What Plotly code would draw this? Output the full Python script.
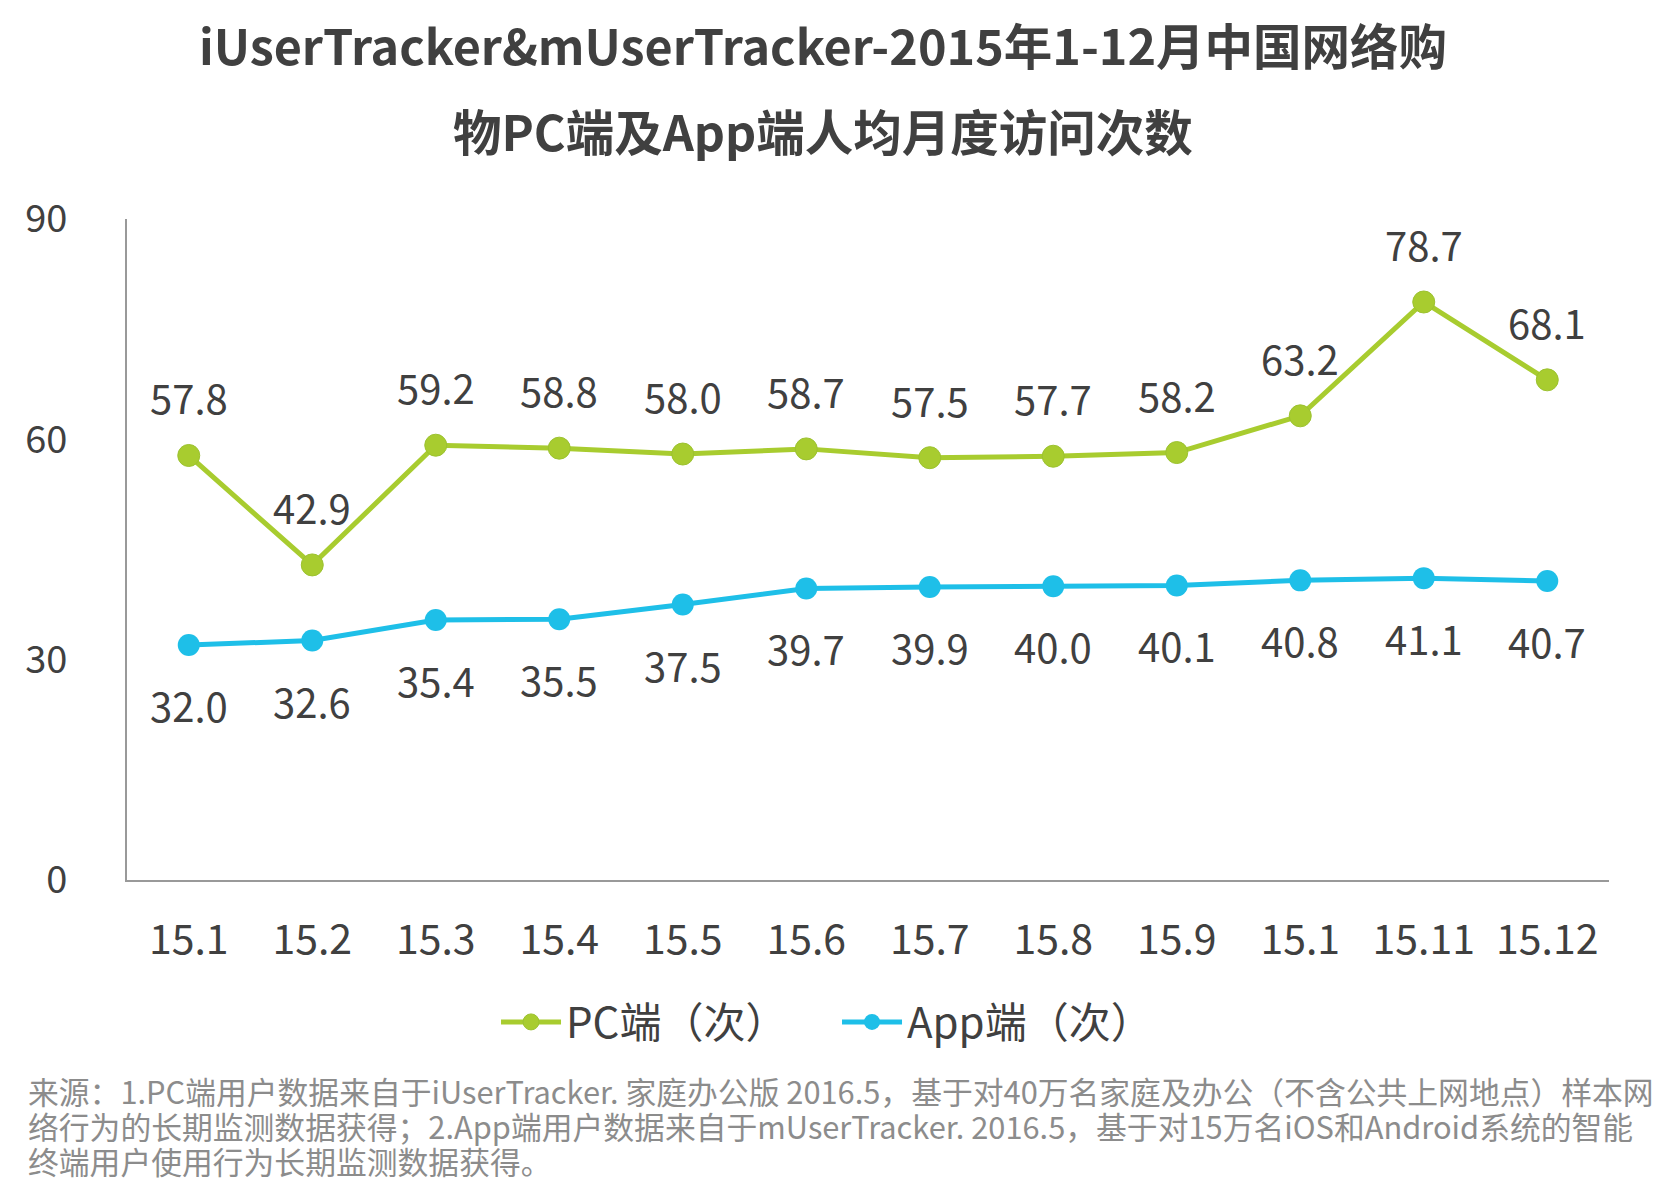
import plotly.graph_objects as go

months = ["15.01", "15.02", "15.03", "15.04", "15.05", "15.06",
          "15.07", "15.08", "15.09", "15.10", "15.11", "15.12"]
tick_labels = ["15.1", "15.2", "15.3", "15.4", "15.5", "15.6",
               "15.7", "15.8", "15.9", "15.1", "15.11", "15.12"]
pc_visits = [57.8, 42.9, 59.2, 58.8, 58.0, 58.7, 57.5, 57.7, 58.2, 63.2, 78.7, 68.1]
app_visits = [32.0, 32.6, 35.4, 35.5, 37.5, 39.7, 39.9, 40.0, 40.1, 40.8, 41.1, 40.7]
y_ticks = [0, 30, 60, 90]

source_lines = [
    "来源：1.PC端用户数据来自于iUserTracker. 家庭办公版 2016.5，基于对40万名家庭及办公（不含公共上网地点）样本网",
    "络行为的长期监测数据获得；2.App端用户数据来自于mUserTracker. 2016.5，基于对15万名iOS和Android系统的智能",
    "终端用户使用行为长期监测数据获得。",
]

green = "#a8cc2f"
blue = "#1ebfe8"
text_color = "#404040"
font_name = "Noto Sans CJK SC"

fig = go.Figure()
fig.add_trace(go.Scatter(x=months, y=pc_visits, mode="lines+markers", name="PC端（次）",
                         line=dict(color=green, width=5),
                         marker=dict(size=22, color=green, line=dict(color="#9cc230", width=1))))
fig.add_trace(go.Scatter(x=months, y=app_visits, mode="lines+markers", name="App端（次）",
                         line=dict(color=blue, width=5),
                         marker=dict(size=22, color=blue)))

# value labels: PC above the points, App below (x given as category index)
for i, v in enumerate(pc_visits):
    fig.add_annotation(x=i, y=v, text=f"{v:.1f}", showarrow=False, yshift=58,
                       font=dict(size=40, color=text_color, family=font_name))
for i, v in enumerate(app_visits):
    fig.add_annotation(x=i, y=v, text=f"{v:.1f}", showarrow=False, yshift=-60,
                       font=dict(size=40, color=text_color, family=font_name))

# two title lines, placed separately for the wide line spacing
fig.add_annotation(xref="paper", yref="paper", x=0.4695, y=1.264, xanchor="center", yanchor="middle",
                   showarrow=False, text="<b>iUserTracker&mUserTracker-2015年1-12月中国网络购</b>",
                   font=dict(size=48.5, color=text_color, family=font_name))
fig.add_annotation(xref="paper", yref="paper", x=0.4695, y=1.135, xanchor="center", yanchor="middle",
                   showarrow=False, text="<b>物PC端及App端人均月度访问次数</b>",
                   font=dict(size=48.5, color=text_color, family=font_name))

for k, line in enumerate(source_lines):
    fig.add_annotation(xref="paper", yref="paper", x=-0.068, y=-0.318 - 0.053 * k,
                       xanchor="left", yanchor="middle", align="left", showarrow=False, text=line,
                       font=dict(size=30.8, color="#8c8c8c", family=font_name))

fig.update_layout(
    width=1672, height=1195,
    margin=dict(l=119, r=71, t=211, b=323),
    paper_bgcolor="white", plot_bgcolor="white",
    font=dict(family=font_name, color=text_color),
    showlegend=True,
    legend=dict(orientation="h", x=0.249, xanchor="left", y=-0.215, yanchor="middle",
                font=dict(size=42, color=text_color, family=font_name),
                itemwidth=60, entrywidth=266, entrywidthmode="pixels"),
)
fig.update_xaxes(type="category", range=[-0.5, 11.5], tickvals=months, ticktext=tick_labels, tickangle=0,
                 showline=True, linecolor="#999999", linewidth=2,
                 showgrid=False, ticks="", tickfont=dict(size=41, color=text_color), ticklabelstandoff=23)
fig.update_yaxes(range=[0, 90], tickvals=y_ticks, showline=True, linecolor="#999999", linewidth=2,
                 showgrid=False, zeroline=False, ticks="", tickfont=dict(size=38, color=text_color),
                 ticklabelstandoff=50)

fig.write_html("out.html")
